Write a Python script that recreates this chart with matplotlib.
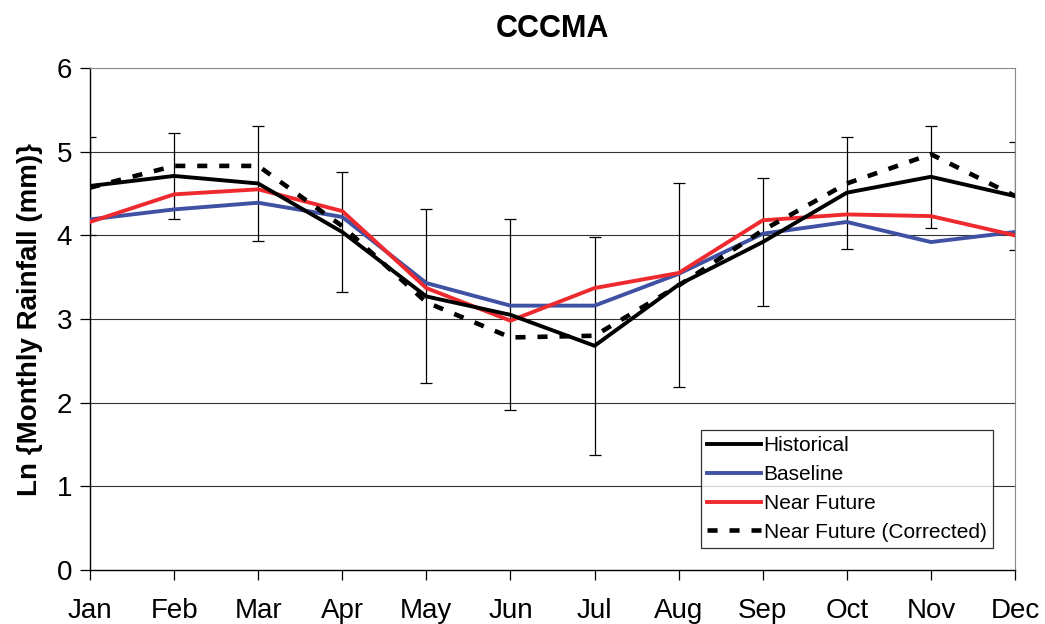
import matplotlib.pyplot as plt
import numpy as np

plt.rcParams['font.family'] = ['Liberation Sans', 'DejaVu Sans']

months = ['Jan', 'Feb', 'Mar', 'Apr', 'May', 'Jun', 'Jul', 'Aug', 'Sep', 'Oct', 'Nov', 'Dec']

# Ln of monthly rainfall (mm)
historical = [4.59, 4.71, 4.62, 4.04, 3.27, 3.05, 2.68, 3.41, 3.92, 4.51, 4.70, 4.47]
baseline = [4.19, 4.31, 4.39, 4.22, 3.43, 3.16, 3.16, 3.54, 4.02, 4.16, 3.92, 4.04]
near_future = [4.16, 4.49, 4.55, 4.29, 3.37, 2.98, 3.37, 3.55, 4.18, 4.25, 4.23, 4.00]
near_future_corr = [4.57, 4.83, 4.83, 4.11, 3.20, 2.78, 2.80, 3.40, 4.06, 4.62, 4.97, 4.47]

# spread of the historical record (half-width of the bars)
hist_err = [0.58, 0.515, 0.69, 0.72, 1.04, 1.14, 1.30, 1.22, 0.77, 0.67, 0.61, 0.64]

x = np.arange(len(months))

fig = plt.figure(figsize=(10.45, 6.24), dpi=100)
ax = fig.add_axes([0.0861, 0.0865, 0.8852, 0.8045])

# horizontal grid
for g in range(1, 6):
    ax.axhline(g, color='#333333', linewidth=0.8, zorder=1)

ax.errorbar(x, historical, yerr=hist_err, fmt='none', ecolor='black',
            elinewidth=0.9, capsize=4, capthick=0.9, zorder=2)

ax.plot(x, historical, color='black', linewidth=2.8, label='Historical', zorder=4)
ax.plot(x, baseline, color='#3F51A3', linewidth=2.8, label='Baseline', zorder=3)
ax.plot(x, near_future, color='#EE2A2E', linewidth=2.8, label='Near Future', zorder=3)
ax.plot(x, near_future_corr, color='black', linewidth=3.3, linestyle=(0, (2.2, 2.6)),
        label='Near Future (Corrected)', zorder=5)

ax.set_xlim(0, 11)
ax.set_ylim(0, 6)
ax.set_xticks(x)
ax.set_xticklabels(months, fontsize=20)
ax.set_yticks(range(0, 7))
ax.tick_params(axis='y', labelsize=20, direction='out', length=7, width=0.9, pad=6)
ax.tick_params(axis='x', direction='out', length=7, width=0.9, pad=13)

ax.spines['left'].set_linewidth(1.0)
ax.spines['bottom'].set_linewidth(1.0)
ax.spines['top'].set_color('#888888')
ax.spines['right'].set_color('#888888')

ax.set_ylabel('Ln {Monthly Rainfall (mm)}', fontsize=20, fontweight='bold', labelpad=10)
ax.set_title('CCCMA', fontsize=22, fontweight='bold', pad=22)

leg = ax.legend(loc='lower right', bbox_to_anchor=(0.976, 0.044), fontsize=15,
                frameon=True, fancybox=False, edgecolor='black', handlelength=2.55,
                handletextpad=0.15, borderpad=0.3, labelspacing=0.47, borderaxespad=0)
leg.get_frame().set_linewidth(0.9)

fig.savefig('out.png', dpi=100)
